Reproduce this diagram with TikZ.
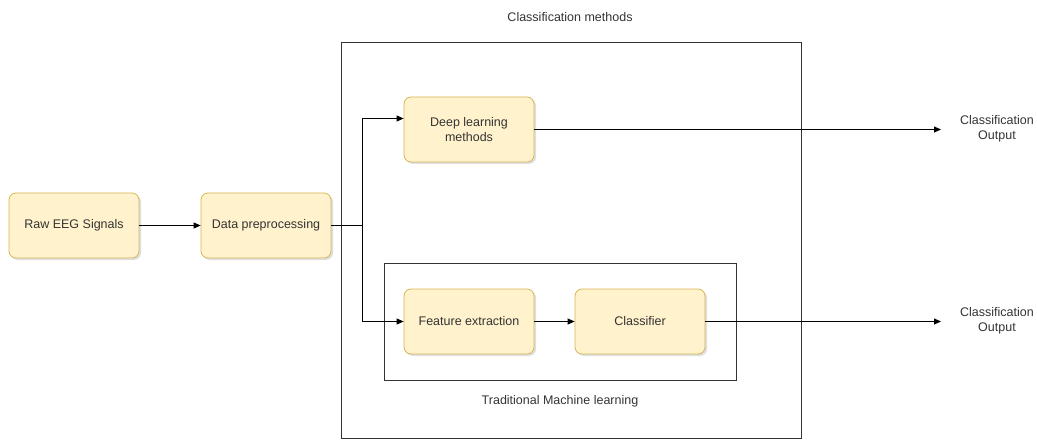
\documentclass[tikz,border=0pt]{standalone}
\usepackage{fontspec}
\setmainfont{Liberation Sans}
\usetikzlibrary{arrows.meta,shadows}
\definecolor{boxfill}{HTML}{FFF2CC}
\definecolor{boxdraw}{HTML}{D6B656}
\definecolor{linec}{HTML}{333333}
\begin{document}
\begin{tikzpicture}[x=1pt,y=-1pt,
  proc/.style={draw=boxdraw,fill=boxfill,rounded corners=7pt,line width=0.8pt,
    minimum width=130pt,minimum height=65pt,align=center,text=linec,
    font=\fontsize{12.5}{15}\selectfont,
    drop shadow={shadow xshift=2pt,shadow yshift=-2pt,opacity=0.25,fill=gray}},
  frame/.style={draw=linec,line width=1pt},
  lbl/.style={text=linec,font=\fontsize{12.5}{15}\selectfont,align=center},
  conn/.style={draw=black,line width=0.8pt,-{Triangle[length=7pt,width=6pt]}},
  plain/.style={draw=black,line width=0.8pt}]
\useasboundingbox (0,0) rectangle (1037,441);
% frames
\draw[frame] (341,43) rectangle (801,438);
\draw[frame] (384,263) rectangle (736,380);
\node[lbl] (tcm) at (570,17) {Classification methods};
\node[lbl] (ttml) at (560,401) {Traditional Machine learning};
% nodes
\node[proc] (raw) at (74,225.5) {Raw EEG Signals};
\node[proc] (pre) at (266,225.5) {Data preprocessing};
\node[proc] (deep) at (469,129.5) {Deep learning\\methods};
\node[proc] (feat) at (469,321.5) {Feature extraction};
\node[proc] (cls) at (640,321.5) {Classifier};
\node[lbl] (out1) at (997,129) {Classification\\Output};
\node[lbl] (out2) at (997,321) {Classification\\Output};
\coordinate (split) at (362,225.5);
\coordinate (end1) at (941,129.5);
\coordinate (end2) at (941,321.5);
% connectors
\draw[conn] (raw) -- (pre);
\draw[plain] (pre.east) -- (split);
\draw[conn] (split) |- ([yshift=11pt]deep.west);
\draw[conn] (split) |- (feat.west);
\draw[conn] (feat) -- (cls);
\draw[conn] (deep.east) -- (end1);
\draw[conn] (cls.east) -- (end2);
\end{tikzpicture}
\end{document}
